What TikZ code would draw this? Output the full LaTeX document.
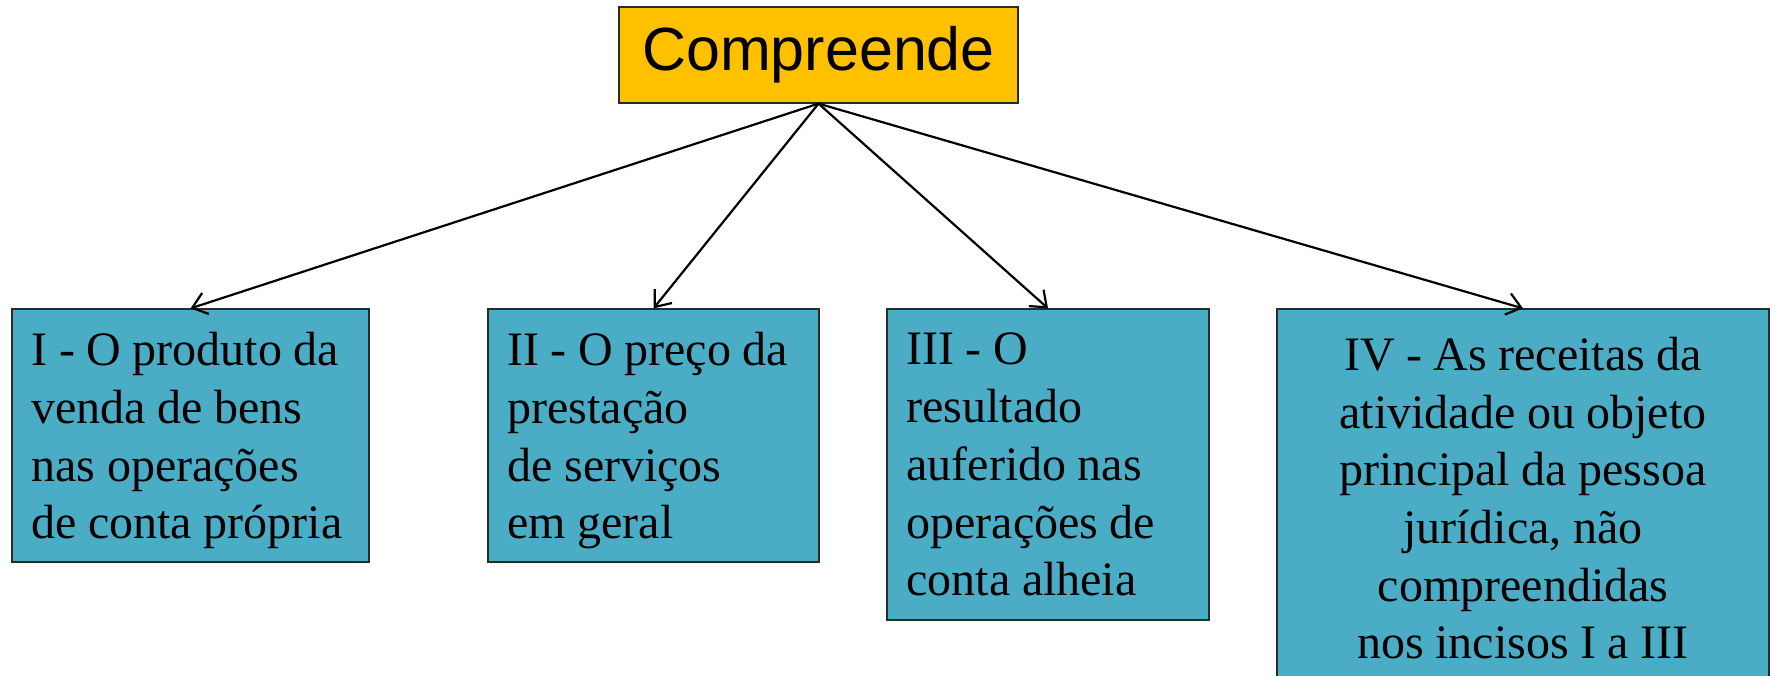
\documentclass[tikz,border=0pt]{standalone}
\usepackage{fontspec}
\setmainfont{Liberation Serif}
\newfontfamily\titlefont{Liberation Sans}
\usetikzlibrary{arrows.meta}
\definecolor{topfill}{HTML}{FFC000}
\definecolor{boxfill}{HTML}{4BACC6}
\definecolor{boxline}{HTML}{2A2A2A}
\newcommand{\itemfont}{\fontsize{24pt}{28.85pt}\selectfont}
\newcommand{\gap}{\hspace{0.24em}}
\tikzset{
  titlebox/.style={draw=boxline, fill=topfill, line width=0.6pt, inner sep=0pt,
    font=\titlefont\fontsize{30.5pt}{36pt}\selectfont},
  itembox/.style={draw=boxline, fill=boxfill, line width=0.6pt, inner xsep=9.75pt, inner ysep=0pt,
    font=\itemfont},
  link/.style={line width=1.1pt, -{Straight Barb[length=7pt,width=11pt,line width=1.1pt]}}
}
\newcommand{\oneline}[1]{\mbox{#1}}
\newcommand{\lastline}[1]{\raisebox{0pt}[\height][0pt]{#1}}
\begin{document}
\begin{tikzpicture}[x=0.5pt,y=-0.5pt]
\useasboundingbox (0,0) rectangle (1775,675);
\clip (0,0) rectangle (1775,675);
\node[titlebox, minimum width=199.5pt, minimum height=48pt] (top) at (818.5,55) {Compreende};
\node[itembox, minimum width=178.5pt, minimum height=126.5pt, text width=159pt, align=left] (b1) at (190.5,435.5)
  {\oneline{I\gap -\gap O\gap produto\gap da}\\\oneline{venda\gap de\gap bens}\\\oneline{nas\gap operações}\\\lastline{de\gap conta\gap própria}};
\node[itembox, minimum width=165.5pt, minimum height=126.5pt, text width=146pt, align=left] (b2) at (653.5,435.5)
  {\oneline{II\gap -\gap O\gap preço\gap da}\\\oneline{prestação}\\\oneline{de\gap serviços}\\\lastline{em\gap geral}};
\node[itembox, minimum width=161pt, minimum height=155.5pt, text width=141.5pt, align=left] (b3) at (1048,464.5)
  {\oneline{III\gap -\gap O}\\\oneline{resultado}\\\oneline{auferido\gap nas}\\\oneline{operações\gap de}\\\lastline{conta\gap alheia}};
\node[itembox, minimum width=246pt, minimum height=189pt, text width=226.5pt, align=center] (b4) at (1523,498)
  {\oneline{IV\gap -\gap As\gap receitas\gap da}\\\oneline{atividade\gap ou\gap objeto}\\\oneline{principal\gap da\gap pessoa}\\\oneline{jurídica,\gap não}\\\oneline{compreendidas}\\\lastline{nos\gap incisos\gap I\gap a\gap III}};
\draw[link] (top.south) -- (b1.north);
\draw[link] (top.south) -- (b2.north);
\draw[link] (top.south) -- (b3.north);
\draw[link] (top.south) -- (b4.north);
\end{tikzpicture}
\end{document}
